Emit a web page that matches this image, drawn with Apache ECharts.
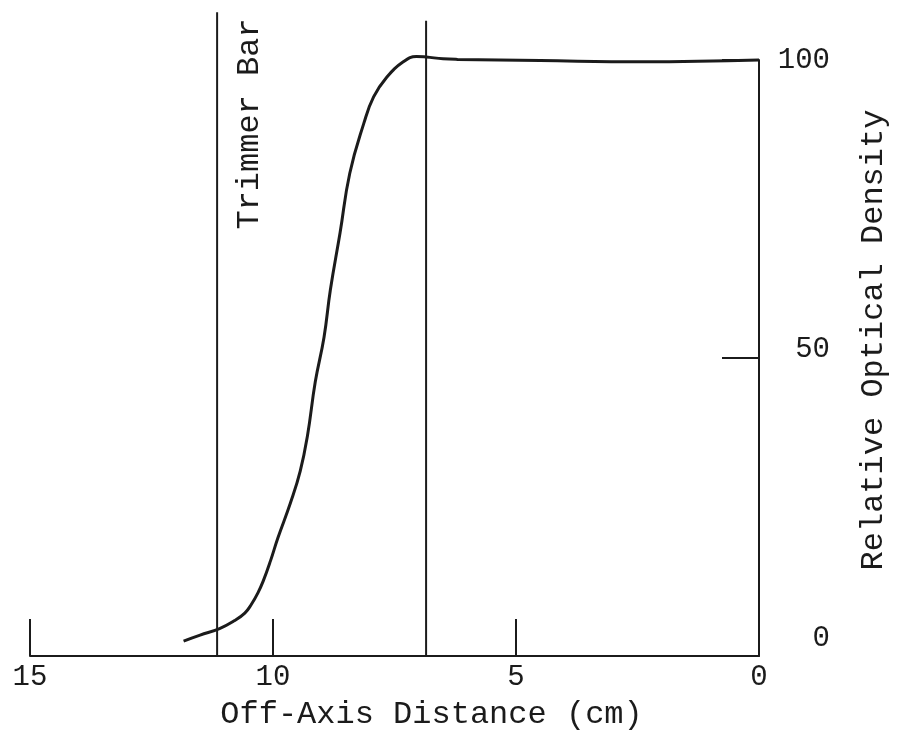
<!DOCTYPE html>
<html>
<head>
<meta charset="utf-8">
<title>Relative Optical Density vs Off-Axis Distance</title>
<script src="https://cdn.jsdelivr.net/npm/echarts@6/dist/echarts.min.js"></script>
<style>
  html, body { margin: 0; padding: 0; background: #fff; }
  #chart { width: 898px; height: 740px; }
</style>
</head>
<body>
<div id="chart"></div>
<script>
// profile (distance in cm, density in %)
const distance = [11.84, 11.5, 11.1, 10.8, 10.58, 10.45, 10.31, 10.2, 10.05, 9.9, 9.64, 9.44, 9.29, 9.13, 8.95, 8.82, 8.62, 8.42, 8.13, 7.93, 7.66, 7.32, 7.05, 6.85, 6.5, 6.2, 4.5, 2.4, 0]
const density = [2.5, 3.5, 4.6, 5.9, 7.2, 8.6, 10.6, 12.6, 16.0, 19.8, 25.7, 31.0, 37.0, 46.0, 53.5, 61.4, 71.0, 81.0, 89.4, 93.8, 97.1, 99.7, 100.6, 100.5, 100.2, 100.1, 99.9, 99.7, 100]

const xTicks = [0, 5, 10, 15]
const yTicks = [0, 50, 100]

// vertical marker lines: position (cm) and how high they are drawn (density units)
const barPositions = [11.15, 6.85]
const barTops = [108, 106.6]
const barLabel = 'Trimmer Bar'

const font = 'Liberation Mono'
const ink = '#1b1b1b'

const chart = echarts.init(document.getElementById('chart'))

function yLabel(v) {
  if (v === 0) return '{z|' + v + '}'
  if (v === 50) return '{u|' + v + '}'
  return '{t|' + v + '}'
}

const barSeries = barPositions.map((x, i) => ({
  type: 'line',
  data: [[x, 0], [x, barTops[i]]],
  symbol: 'none',
  clip: false,
  silent: true,
  lineStyle: { color: ink, width: 2 }
}))

chart.setOption({
  backgroundColor: '#fff',
  animation: false,
  grid: { left: 30, right: 132, top: 60, bottom: 84 },
  xAxis: {
    type: 'value',
    min: xTicks[0],
    max: xTicks[xTicks.length - 1],
    interval: xTicks[1] - xTicks[0],
    inverse: true,
    axisLine: { lineStyle: { color: ink, width: 2 } },
    axisTick: { inside: true, length: 37, lineStyle: { color: ink, width: 2 } },
    axisLabel: { color: ink, fontFamily: font, fontSize: 29, margin: 7 },
    splitLine: { show: false },
    name: 'Off-Axis Distance (cm)',
    nameLocation: 'middle',
    nameGap: 43,
    nameTextStyle: { color: ink, fontFamily: font, fontSize: 32, padding: [0, 0, 0, 74] }
  },
  yAxis: {
    type: 'value',
    position: 'right',
    min: yTicks[0],
    max: yTicks[yTicks.length - 1],
    interval: yTicks[1] - yTicks[0],
    axisLine: { show: true, lineStyle: { color: ink, width: 2 } },
    axisTick: { show: true, inside: true, length: 37, lineStyle: { color: ink, width: 2 } },
    axisLabel: {
      color: ink,
      fontFamily: font,
      fontSize: 29,
      align: 'right',
      margin: 71,
      formatter: yLabel,
      rich: {
        t: { color: ink, fontFamily: font, fontSize: 29 },
        u: { color: ink, fontFamily: font, fontSize: 29, padding: [0, 0, 18, 0] },
        z: { color: ink, fontFamily: font, fontSize: 29, padding: [0, 0, 36, 0] }
      }
    },
    splitLine: { show: false },
    name: 'Relative Optical Density',
    nameLocation: 'middle',
    nameRotate: 90,
    nameGap: 99,
    nameTextStyle: { color: ink, fontFamily: font, fontSize: 32, padding: [0, 0, 0, 36] }
  },
  series: [
    {
      type: 'line',
      data: distance.map((d, i) => [d, density[i]]),
      smooth: 0.45,
      symbol: 'none',
      clip: false,
      lineStyle: { color: ink, width: 3 }
    },
    ...barSeries
  ]
})

// label beside the trimmer bar, placed from the bar's top via the chart's scales
const [tx, ty] = chart.convertToPixel({ gridIndex: 0 }, [barPositions[0], barTops[0]])
chart.setOption({
  graphic: [{
    type: 'text',
    x: tx + 32,
    y: ty + 6,
    rotation: Math.PI / 2,
    style: {
      text: barLabel,
      font: '32px "Liberation Mono"',
      fill: ink,
      align: 'right',
      verticalAlign: 'middle'
    }
  }]
})

window.addEventListener('resize', () => chart.resize())
</script>
</body>
</html>
